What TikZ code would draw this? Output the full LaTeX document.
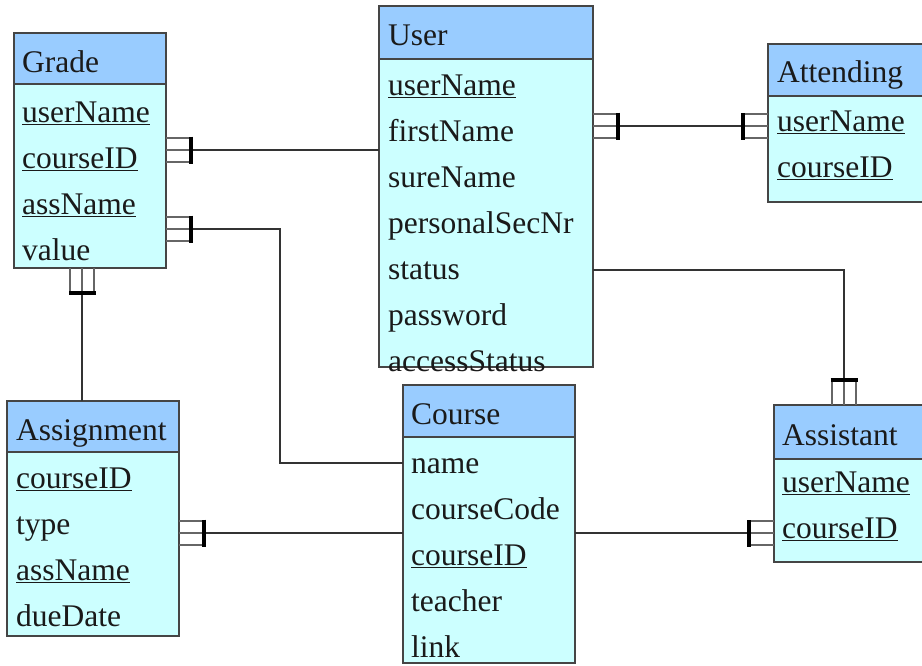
\documentclass[tikz,border=0pt]{standalone}
\usepackage{fontspec}
\setmainfont{Liberation Serif}
\definecolor{hdrc}{HTML}{99CCFF}
\definecolor{bodyc}{HTML}{CCFFFF}
\definecolor{edgec}{HTML}{454545}
\definecolor{txtc}{HTML}{1A1A1A}
\newcommand\ulk[1]{\setbox0\hbox{#1}\rlap{\rule[-3.2pt]{\wd0}{1.3pt}}\box0}
\tikzset{
  hdr/.style={draw=edgec, fill=hdrc, line width=1.2pt, anchor=north west, inner sep=0pt, outer sep=0pt},
  bdy/.style={draw=edgec, fill=bodyc, line width=1.2pt, anchor=north west, inner sep=0pt, outer sep=0pt},
  txt/.style={anchor=base west, inner sep=0pt, text=txtc, font=\fontsize{31.5}{36}\selectfont},
  conn/.style={draw=black!80, line width=1.1pt},
  forkl/.style={draw=black!60, line width=1.2pt},
  forkbar/.style={draw=black, line width=3.2pt},
  crowfoot/.pic={
    \draw[forkl] (0,-12)--(25,-12) (0,0)--(25,0) (0,12)--(25,12);
    \draw[forkbar] (25,-13.5)--(25,13.5);
  }
}
\begin{document}
\begin{tikzpicture}[x=1pt,y=-1pt]
\useasboundingbox (0,0) rectangle (922,665);
% boxes
\node[bdy, minimum width=152, minimum height=184] (gradeB) at (14,84) {};
\node[hdr, minimum width=152, minimum height=51] (gradeH) at (14,33) {};
\node[bdy, minimum width=214, minimum height=308] (userB) at (379,59) {};
\node[hdr, minimum width=214, minimum height=53] (userH) at (379,6) {};
\node[bdy, minimum width=160, minimum height=106] (attB) at (768,96) {};
\node[hdr, minimum width=160, minimum height=52] (attH) at (768,44) {};
\node[bdy, minimum width=172, minimum height=184] (asgB) at (7,452) {};
\node[hdr, minimum width=172, minimum height=51] (asgH) at (7,401) {};
\node[bdy, minimum width=172, minimum height=226] (crsB) at (403,437) {};
\node[hdr, minimum width=172, minimum height=52] (crsH) at (403,385) {};
\node[bdy, minimum width=154, minimum height=103] (assB) at (774,459) {};
\node[hdr, minimum width=154, minimum height=54] (assH) at (774,405) {};
% connector end points
\coordinate (gU) at (166,150); \coordinate (uG) at (379,150);
\coordinate (gC) at (166,229); \coordinate (cG) at (403,463);
\coordinate (uAt) at (593,126); \coordinate (atU) at (768,126);
\coordinate (gA) at (82,268); \coordinate (aG) at (82,401);
\coordinate (asC) at (179,533); \coordinate (cAs) at (403,533);
\coordinate (cAt) at (575,533); \coordinate (atC) at (774,533);
\coordinate (uAs) at (593,270); \coordinate (asU) at (844,405);
% connectors
\draw[conn] (gU) -- (uG);
\draw[conn] (gC) -- ++(114,0) |- (cG);
\draw[conn] (uAt) -- (atU);
\draw[conn] (gA) -- (aG);
\draw[conn] (asC) -- (cAs);
\draw[conn] (cAt) -- (atC);
\draw[conn] (uAs) -| (asU);
% cardinality marks
\pic at (gU) {crowfoot};
\pic at (gC) {crowfoot};
\pic at (uAt) {crowfoot};
\pic[rotate=180] at (atU) {crowfoot};
\pic[rotate=-90] at (gA) {crowfoot};
\pic at (asC) {crowfoot};
\pic[rotate=180] at (atC) {crowfoot};
\pic[rotate=90] at (asU) {crowfoot};
% texts
\node[txt] (tGrade) at (22,72) {Grade};
\node[txt] (g1) at (22,122) {\ulk{userName}};
\node[txt] (g2) at (22,168) {\ulk{courseID}};
\node[txt] (g3) at (22,214) {\ulk{assName}};
\node[txt] (g4) at (22,260) {value};
\node[txt] (tUser) at (388,45) {User};
\node[txt] (u1) at (388,95) {\ulk{userName}};
\node[txt] (u2) at (388,141) {firstName};
\node[txt] (u3) at (388,187) {sureName};
\node[txt] (u4) at (388,233) {personalSecNr};
\node[txt] (u5) at (388,279) {status};
\node[txt] (u6) at (388,325) {password};
\node[txt] (u7) at (388,371) {accessStatus};
\node[txt] (tAtt) at (777,82) {Attending};
\node[txt] (a1) at (777,131) {\ulk{userName}};
\node[txt] (a2) at (777,177) {\ulk{courseID}};
\node[txt] (tAsg) at (16,440) {Assignment};
\node[txt] (s1) at (16,488) {\ulk{courseID}};
\node[txt] (s2) at (16,534) {type};
\node[txt] (s3) at (16,580) {\ulk{assName}};
\node[txt] (s4) at (16,626) {dueDate};
\node[txt] (tCrs) at (411,424) {Course};
\node[txt] (c1) at (411,473) {name};
\node[txt] (c2) at (411,519) {courseCode};
\node[txt] (c3) at (411,565) {\ulk{courseID}};
\node[txt] (c4) at (411,611) {teacher};
\node[txt] (c5) at (411,657) {link};
\node[txt] (tAss) at (782,445) {Assistant};
\node[txt] (t1) at (782,492) {\ulk{userName}};
\node[txt] (t2) at (782,538) {\ulk{courseID}};
\end{tikzpicture}
\end{document}
